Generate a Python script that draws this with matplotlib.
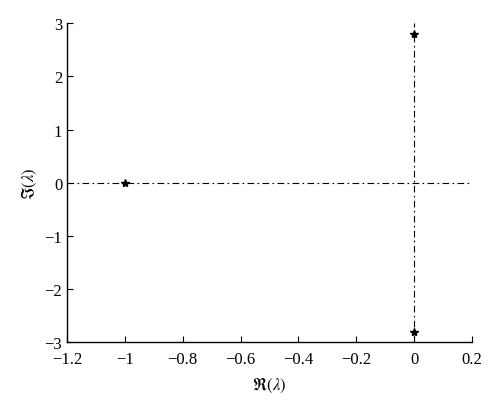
import matplotlib
matplotlib.use("Agg")
import matplotlib.pyplot as plt

re_vals = [-1.0, 0.0, 0.0]
im_vals = [0.0, 2.8, -2.8]
xticks = [-1.2, -1.0, -0.8, -0.6, -0.4, -0.2, 0.0, 0.2]
xtick_labels = ["\u22121.2", "\u22121", "\u22120.8", "\u22120.6", "\u22120.4", "\u22120.2", "0", "0.2"]
yticks = [-3, -2, -1, 0, 1, 2, 3]
ytick_labels = ["\u22123", "\u22122", "\u22121", "0", "1", "2", "3"]

plt.rcParams['font.family'] = ['Liberation Serif', 'DejaVu Serif']
plt.rcParams['mathtext.fontset'] = 'stix'

fig = plt.figure(figsize=(5, 4.1), dpi=100)
ax = fig.add_axes([0.134, 0.163, 0.81, 0.778])

ax.axhline(0, color='black', lw=0.8, linestyle='-.', dashes=(6, 3, 1.5, 3))
ax.axvline(0, color='black', lw=0.8, linestyle='-.', dashes=(6, 3, 1.5, 3))
ax.plot(re_vals, im_vals, linestyle='none', marker='*', color='black', markersize=6)

ax.set_xlim(-1.2, 0.2)
ax.set_ylim(-3, 3)
ax.set_xticks(xticks)
ax.set_xticklabels(xtick_labels)
ax.set_yticks(yticks)
ax.set_yticklabels(ytick_labels)
ax.tick_params(direction='in', length=4, labelsize=12, width=0.8)
ax.tick_params(axis='x', pad=6)
for s in ['top', 'right']:
    ax.spines[s].set_visible(False)
for s in ['left', 'bottom']:
    ax.spines[s].set_linewidth(1.0)

ax.set_xlabel(r'$\Re(\lambda)$', fontsize=12, labelpad=6)
ax.set_ylabel(r'$\Im(\lambda)$', fontsize=12)

fig.savefig('out.png', dpi=100)
